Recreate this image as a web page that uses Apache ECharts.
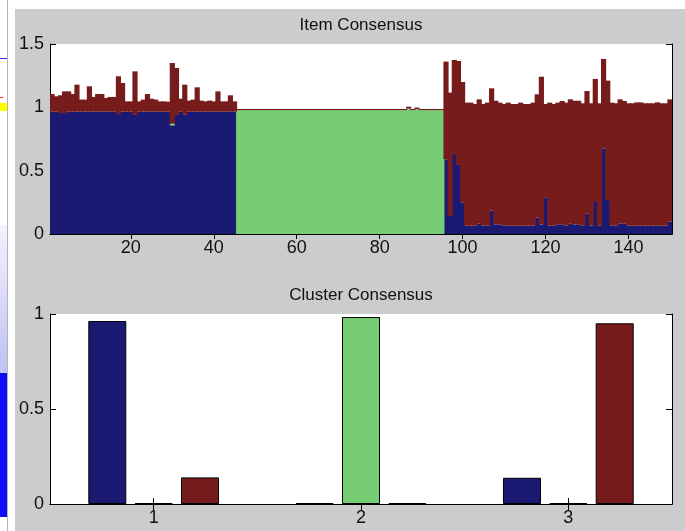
<!DOCTYPE html>
<html lang="en">

<head>
    <meta charset="UTF-8">
    <title>Consensus</title>
    <script src="https://cdn.jsdelivr.net/npm/echarts@6/dist/echarts.min.js"></script>
    <style>
        body { margin: 0; background: #fff; }
        .deco { position: absolute; }
        #main { position: absolute; left: 0; top: 0; width: 685px; height: 531px; }
    </style>
</head>

<body>
    <!-- bits of the neighbouring window and the grey figure background -->
    <div class="deco" style="left:15px;top:9px;width:670px;height:522px;background:#cccccc"></div>
    <div class="deco" style="left:7px;top:0;width:1px;height:531px;background:#b4b4b4"></div>
    <div class="deco" style="left:0;top:58px;width:7px;height:1px;background:#3232ff"></div>
    <div class="deco" style="left:0;top:97px;width:3px;height:1px;background:#ff2020"></div>
    <div class="deco" style="left:0;top:103px;width:7px;height:8px;background:#ffff00"></div>
    <div class="deco" style="left:0;top:225px;width:7px;height:148px;background:linear-gradient(#f2f2ff,#c0c0f4)"></div>
    <div class="deco" style="left:0;top:373px;width:7px;height:144px;background:#0b0bf5"></div>
    <div id="main"></div>
    <script>
        const navy = '#1b1a72'
        const green = '#77cd73'
        const red = '#771c1c'
        const font = 'Liberation Sans, Arial, sans-serif'

        // item consensus, one value per item (items 1..150)
        const itemNavy = [
            0.966, 0.966, 0.955, 0.955, 0.966, 0.966, 0.966, 0.966, 0.966, 0.966, 0.966, 0.966, 0.966, 0.966, 0.966,
            0.966, 0.948, 0.966, 0.966, 0.966, 0.940, 0.966, 0.966, 0.966, 0.966, 0.966, 0.966, 0.966, 0.966, 0.858,
            0.940, 0.966, 0.945, 0.966, 0.966, 0.966, 0.966, 0.966, 0.966, 0.966, 0.966, 0.966, 0.966, 0.966, 0.966,
            0, 0, 0, 0, 0, 0, 0, 0, 0, 0, 0, 0, 0, 0, 0,
            0, 0, 0, 0, 0, 0, 0, 0, 0, 0, 0, 0, 0, 0, 0,
            0, 0, 0, 0, 0, 0, 0, 0, 0, 0, 0, 0, 0, 0, 0,
            0, 0, 0, 0, 0, 0.590, 0.142, 0.632, 0.545, 0.247, 0.066, 0.066, 0.066, 0.084, 0.066,
            0.066, 0.184, 0.076, 0.076, 0.066, 0.066, 0.066, 0.066, 0.066, 0.066, 0.066, 0.066, 0.129, 0.076, 0.290,
            0.066, 0.066, 0.076, 0.076, 0.066, 0.084, 0.076, 0.076, 0.066, 0.163, 0.066, 0.260, 0.066, 0.676, 0.268,
            0.066, 0.066, 0.084, 0.084, 0.066, 0.066, 0.066, 0.066, 0.066, 0.066, 0.066, 0.066, 0.066, 0.066, 0.097,
        ]
        const itemGreen = [
            0, 0, 0, 0, 0, 0, 0, 0, 0, 0, 0, 0, 0, 0, 0,
            0, 0, 0, 0, 0, 0, 0, 0, 0, 0, 0, 0, 0, 0, 0.013,
            0, 0, 0, 0, 0, 0, 0, 0, 0, 0, 0, 0, 0, 0, 0,
            0.978, 0.978, 0.978, 0.978, 0.978, 0.978, 0.978, 0.978, 0.978, 0.978, 0.978, 0.978, 0.978, 0.978, 0.978,
            0.978, 0.978, 0.978, 0.978, 0.978, 0.978, 0.978, 0.978, 0.978, 0.978, 0.978, 0.978, 0.978, 0.978, 0.978,
            0.978, 0.978, 0.978, 0.978, 0.978, 0.978, 0.978, 0.978, 0.978, 0.978, 0.978, 0.990, 0.978, 0.986, 0.978,
            0.978, 0.978, 0.978, 0.978, 0.978, 0, 0, 0, 0, 0, 0, 0, 0, 0, 0,
            0, 0, 0, 0, 0, 0, 0, 0, 0, 0, 0, 0, 0, 0, 0,
            0, 0, 0, 0, 0, 0, 0, 0, 0, 0, 0, 0, 0, 0, 0,
            0, 0, 0, 0, 0, 0, 0, 0, 0, 0, 0, 0, 0, 0, 0,
        ]
        const itemRed = [
            0.139, 0.121, 0.140, 0.171, 0.160, 0.139, 0.213, 0.095, 0.095, 0.200, 0.116, 0.139, 0.139, 0.108, 0.116,
            0.116, 0.297, 0.226, 0.081, 0.081, 0.344, 0.081, 0.095, 0.139, 0.102, 0.095, 0.081, 0.081, 0.078, 0.479,
            0.371, 0.102, 0.234, 0.087, 0.095, 0.192, 0.087, 0.081, 0.087, 0.081, 0.160, 0.081, 0.081, 0.129, 0.081,
            0.009, 0.009, 0.009, 0.009, 0.009, 0.009, 0.009, 0.009, 0.009, 0.009, 0.009, 0.009, 0.009, 0.009, 0.009,
            0.009, 0.009, 0.009, 0.009, 0.009, 0.009, 0.009, 0.009, 0.009, 0.009, 0.009, 0.009, 0.009, 0.009, 0.009,
            0.009, 0.009, 0.009, 0.009, 0.009, 0.009, 0.009, 0.009, 0.009, 0.009, 0.009, 0.015, 0.009, 0.012, 0.009,
            0.009, 0.009, 0.009, 0.009, 0.009, 0.771, 0.974, 0.742, 0.821, 0.953, 0.971, 0.971, 0.960, 0.979, 0.960,
            0.971, 0.966, 0.976, 0.961, 0.960, 0.971, 0.960, 0.960, 0.971, 0.960, 0.960, 0.971, 0.974, 1.166, 0.736,
            0.971, 0.960, 0.961, 0.974, 0.971, 0.979, 0.976, 0.976, 0.966, 0.966, 0.966, 0.964, 0.966, 0.706, 0.943,
            0.971, 0.966, 0.979, 0.966, 0.966, 0.966, 0.973, 0.973, 0.966, 0.966, 0.966, 0.973, 0.966, 0.966, 0.966,
        ]
        const itemTicks = [20, 40, 60, 80, 100, 120, 140]

        // cluster consensus, one value per cluster
        const clusters = ['1', '2', '3']
        const clusterNavy = [0.963, 0.005, 0.138]
        const clusterGreen = [0.005, 0.984, 0.005]
        const clusterRed = [0.140, 0.005, 0.951]

        const items = itemNavy.map((v, i) => String(i + 1))
        const showItemTick = (i) => itemTicks.includes(i + 1)

        const labelStyle = { color: '#111', fontFamily: font, fontSize: 18 }
        const blackLine = { show: true, lineStyle: { color: '#000', width: 1 } }

        const catAxis = (grid, data, pos, tickLen, showLabel) => ({
            type: 'category', gridIndex: grid, position: pos, data: data,
            boundaryGap: true, axisLine: blackLine,
            axisTick: {
                show: true, inside: true, length: tickLen, alignWithLabel: true,
                interval: grid === 0 ? showItemTick : 0,
                lineStyle: { color: '#000' }
            },
            axisLabel: {
                show: showLabel, margin: 5, ...labelStyle,
                interval: grid === 0 ? showItemTick : 0
            },
            splitLine: { show: false }
        })

        const valAxis = (grid, max, pos, showLabel) => ({
            type: 'value', gridIndex: grid, position: pos, min: 0, max: max, interval: 0.5,
            axisLine: blackLine,
            axisTick: { show: true, inside: true, length: 6, lineStyle: { color: '#000' } },
            axisLabel: { show: showLabel, margin: 6, ...labelStyle },
            splitLine: { show: false }
        })

        // bars a little wider than their band so no hairline seams show between neighbours
        const itemBar = (name, data, color) => ({
            name: name, type: 'bar', stack: 'item', data: data,
            xAxisIndex: 0, yAxisIndex: 0,
            barWidth: '125%', barGap: '-100%',
            itemStyle: { color: color },
            silent: true
        })

        const clusterBar = (name, data, color) => ({
            name: name, type: 'bar', data: data,
            xAxisIndex: 2, yAxisIndex: 2,
            barWidth: 38, barGap: '22%',
            itemStyle: { color: color, borderColor: '#000', borderWidth: 1 }, silent: true
        })

        const titleStyle = { color: '#111', fontFamily: font, fontSize: 17, fontWeight: 'normal' }

        const chart = echarts.init(document.querySelector('#main'))
        chart.setOption({
            backgroundColor: 'transparent',
            animation: false,
            title: [
                { text: 'Item Consensus', left: 361, top: 17, textAlign: 'center', padding: 0, textStyle: titleStyle },
                { text: 'Cluster Consensus', left: 361, top: 287, textAlign: 'center', padding: 0, textStyle: titleStyle },
            ],
            grid: [
                { left: 50, top: 44, width: 622, height: 190, show: true, backgroundColor: '#fff', borderWidth: 0, outerBoundsMode: 'none' },
                { left: 50, top: 314, width: 622, height: 190, show: true, backgroundColor: '#fff', borderWidth: 0, outerBoundsMode: 'none' },
            ],
            xAxis: [
                catAxis(0, items, 'bottom', 5, true),
                catAxis(0, items, 'top', 5, false),
                catAxis(1, clusters, 'bottom', 6, true),
                catAxis(1, clusters, 'top', 6, false),
            ],
            yAxis: [
                valAxis(0, 1.5, 'left', true),
                valAxis(0, 1.5, 'right', false),
                valAxis(1, 1, 'left', true),
                valAxis(1, 1, 'right', false),
            ],
            series: [
                itemBar('cluster 1', itemNavy, navy),
                itemBar('cluster 2', itemGreen, green),
                itemBar('cluster 3', itemRed, red),
                clusterBar('cluster 1', clusterNavy, navy),
                clusterBar('cluster 2', clusterGreen, green),
                clusterBar('cluster 3', clusterRed, red),
            ]
        })
    </script>
</body>

</html>
